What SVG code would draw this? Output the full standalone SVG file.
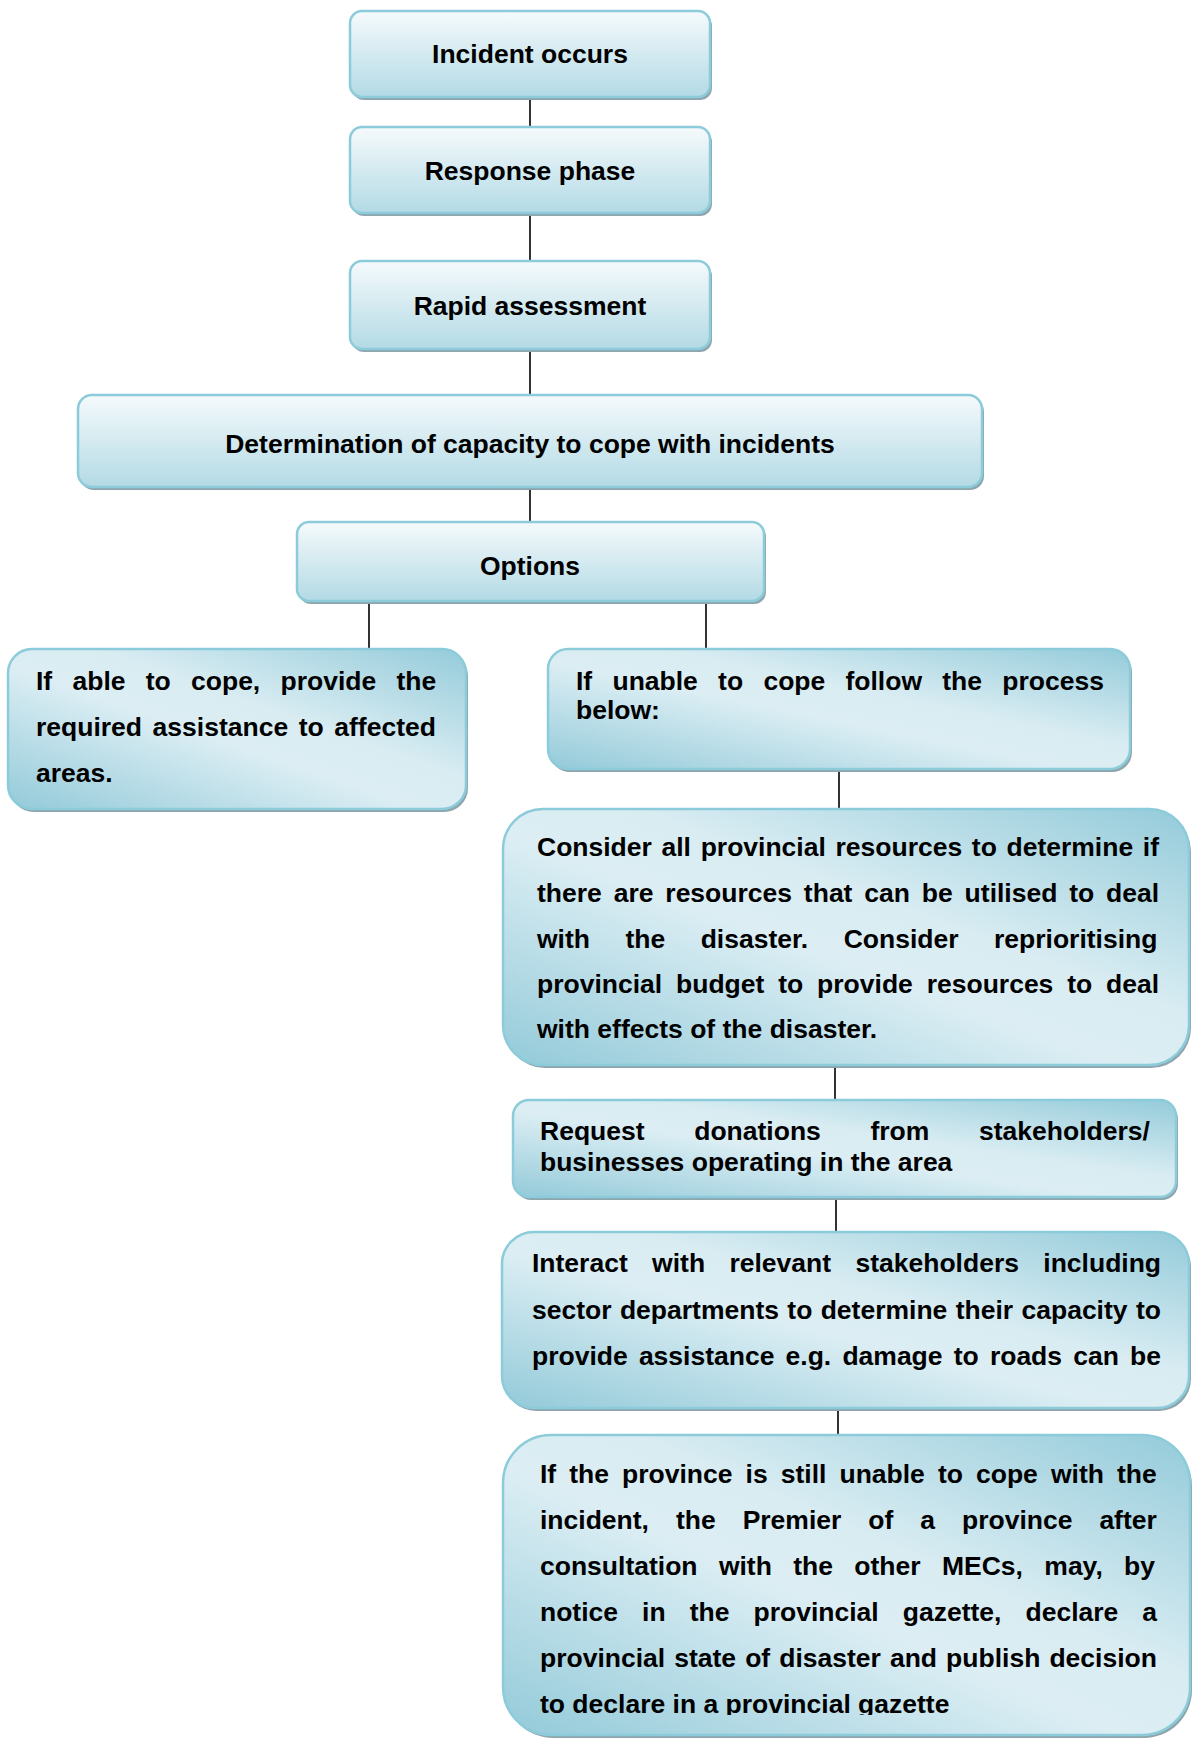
<svg xmlns="http://www.w3.org/2000/svg" width="1192" height="1741" viewBox="0 0 1192 1741">
<defs>
<linearGradient id="gTop" x1="0" y1="0" x2="0" y2="1">
<stop offset="0" stop-color="#f5fafc"/>
<stop offset="1" stop-color="#b3dae5"/>
</linearGradient>
<linearGradient id="gDiag" x1="0" y1="1" x2="1" y2="0">
<stop offset="0" stop-color="#93cad9"/>
<stop offset="0.45" stop-color="#dceef4"/>
<stop offset="0.6" stop-color="#d8ecf2"/>
<stop offset="1" stop-color="#94cbda"/>
</linearGradient>
<clipPath id="clipBottom"><rect x="500" y="1430" width="692" height="285"/></clipPath>
</defs>
<style>
.shadow{fill:#8ea5ad}
.box{stroke:#8ccbd9;stroke-width:2.5}
.top{fill:url(#gTop)}
.diag{fill:url(#gDiag)}
text{font-family:"Liberation Sans",Arial,sans-serif;font-weight:bold;font-size:26.5px;fill:#000}
.c{text-anchor:middle}
.conn{stroke:#000;stroke-width:1.6;fill:none}
</style>
<rect width="1192" height="1741" fill="#ffffff"/>
<g id="connectors">
<path class="conn" d="M530 97V127M530 213V261M530 350V395M530 488V522M369 602V649M706 602V649M839 770V809M835 1065V1100M836 1197V1232M838 1408V1435"/>
</g>
<g id="n1">
<rect class="shadow" x="352" y="14" width="360" height="86" rx="12"/>
<rect class="box top" x="350" y="11" width="360" height="86" rx="12"/>
<text class="c" x="530" y="63">Incident occurs</text>
</g>
<g id="n2">
<rect class="shadow" x="352" y="130" width="360" height="86" rx="12"/>
<rect class="box top" x="350" y="127" width="360" height="86" rx="12"/>
<text class="c" x="530" y="180">Response phase</text>
</g>
<g id="n3">
<rect class="shadow" x="352" y="264" width="360" height="88" rx="12"/>
<rect class="box top" x="350" y="261" width="360" height="88" rx="12"/>
<text class="c" x="530" y="315">Rapid assessment</text>
</g>
<g id="n4">
<rect class="shadow" x="80" y="398" width="904" height="92" rx="14"/>
<rect class="box top" x="78" y="395" width="904" height="92" rx="14"/>
<text class="c" x="530" y="453">Determination of capacity to cope with incidents</text>
</g>
<g id="n5">
<rect class="shadow" x="299" y="525" width="467" height="79" rx="12"/>
<rect class="box top" x="297" y="522" width="467" height="79" rx="12"/>
<text class="c" x="530" y="575">Options</text>
</g>
<g id="n6">
<rect class="shadow" x="10" y="652" width="458" height="160" rx="24"/>
<rect class="box diag" x="8" y="649" width="458" height="160" rx="24"/>
<text x="36" y="690" style="word-spacing:12.9px">If able to cope, provide the</text>
<text x="36" y="736" style="word-spacing:3.2px">required assistance to affected</text>
<text x="36" y="782">areas.</text>
</g>
<g id="n7">
<rect class="shadow" x="550" y="652" width="582" height="120" rx="20"/>
<rect class="box diag" x="548" y="649" width="582" height="120" rx="20"/>
<text x="576" y="690" style="word-spacing:12.9px">If unable to cope follow the process</text>
<text x="576" y="719">below:</text>
</g>
<g id="n8">
<rect class="shadow" x="505" y="812" width="686" height="256" rx="40"/>
<rect class="box diag" x="503" y="809" width="686" height="256" rx="40"/>
<text x="537" y="856" style="word-spacing:2.3px">Consider all provincial resources to determine if</text>
<text x="537" y="902" style="word-spacing:4.5px">there are resources that can be utilised to deal</text>
<text x="537" y="948" style="word-spacing:28.1px">with the disaster. Consider reprioritising</text>
<text x="537" y="993" style="word-spacing:6.5px">provincial budget to provide resources to deal</text>
<text x="537" y="1038">with effects of the disaster.</text>
</g>
<g id="n9">
<rect class="shadow" x="515" y="1103" width="663" height="97" rx="16"/>
<rect class="box diag" x="513" y="1100" width="663" height="97" rx="16"/>
<text x="540" y="1140" style="word-spacing:42.3px">Request donations from stakeholders/</text>
<text x="540" y="1171">businesses operating in the area</text>
</g>
<g id="n10">
<rect class="shadow" x="504" y="1235" width="687" height="176" rx="32"/>
<rect class="box diag" x="502" y="1232" width="687" height="176" rx="32"/>
<text x="532" y="1272" style="word-spacing:17px">Interact with relevant stakeholders including</text>
<text x="532" y="1319" style="word-spacing:1px">sector departments to determine their capacity to</text>
<text x="532" y="1365" style="word-spacing:3.8px">provide assistance e.g. damage to roads can be</text>
</g>
<g id="n11">
<rect class="shadow" x="505" y="1438" width="687" height="300" rx="48"/>
<rect class="box diag" x="503" y="1435" width="687" height="300" rx="48"/>
<g clip-path="url(#clipBottom)">
<text x="540" y="1483" style="word-spacing:5.7px">If the province is still unable to cope with the</text>
<text x="540" y="1529" style="word-spacing:19.6px">incident, the Premier of a province after</text>
<text x="540" y="1575" style="word-spacing:14px">consultation with the other MECs, may, by</text>
<text x="540" y="1621" style="word-spacing:16.7px">notice in the provincial gazette, declare a</text>
<text x="540" y="1667" style="word-spacing:1.7px">provincial state of disaster and publish decision</text>
<text x="540" y="1713">to declare in a provincial gazette</text>
</g>
</g>
</svg>
